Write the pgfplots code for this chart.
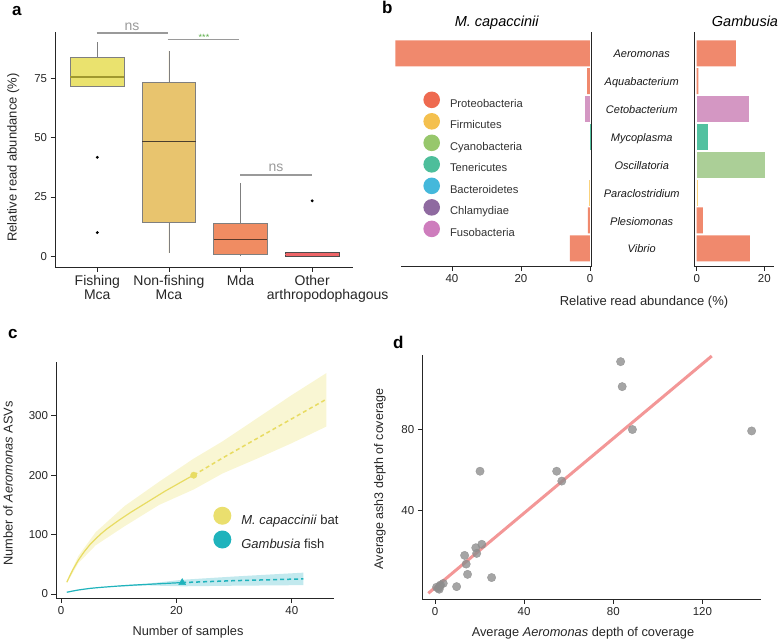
\documentclass[border=0pt]{standalone}
\usepackage{fontspec}
\setmainfont{Liberation Sans}
\usepackage{pgfplots}
\pgfplotsset{compat=1.18}
\usepgfplotslibrary{statistics}

\definecolor{boxY}{HTML}{EAE26E}
\definecolor{boxYmed}{HTML}{A0982E}
\definecolor{boxO}{HTML}{E8C46E}
\definecolor{boxOmed}{HTML}{4A3E2E}
\definecolor{boxS}{HTML}{F08C62}
\definecolor{boxSmed}{HTML}{5B3A2A}
\definecolor{boxR}{HTML}{EE6467}
\definecolor{edgeG}{HTML}{7F7F7F}
\definecolor{sigG}{HTML}{9A9A9A}
\definecolor{sigGreen}{HTML}{5DAE4B}
\definecolor{proteo}{HTML}{EE6A50}
\definecolor{firm}{HTML}{F4C04E}
\definecolor{cyano}{HTML}{97C76C}
\definecolor{teneri}{HTML}{4DBE9B}
\definecolor{bactero}{HTML}{44B8DB}
\definecolor{chlamy}{HTML}{8F6AA0}
\definecolor{fuso}{HTML}{CE7DBD}
\definecolor{proteoB}{HTML}{F0896D}
\definecolor{firmB}{HTML}{FAD27C}
\definecolor{cyanoB}{HTML}{ABCF97}
\definecolor{teneriB}{HTML}{52C1A0}
\definecolor{fusoB}{HTML}{D497C3}
\definecolor{batY}{HTML}{E8DC62}
\definecolor{batLeg}{HTML}{EADF6E}
\definecolor{batBand}{HTML}{F9F6D3}
\definecolor{fishT}{HTML}{1FB3BC}
\definecolor{fishBand}{HTML}{C2E9EE}
\definecolor{ptG}{HTML}{8E8E8E}
\definecolor{regR}{HTML}{F28C8C}

\newcommand{\fs}[1]{\fontsize{#1}{#1}\selectfont}

\pgfplotsset{
  panel/.style={scale only axis, anchor=south west, clip=false,
    axis x line=bottom, axis y line=left,
    axis line style={-, line width=0.9pt, black!85},
    every outer y axis line/.append style={-},
    every outer x axis line/.append style={-},
    tick align=outside, major tick length=4.5pt,
    tick style={line width=0.8pt, black!85},
    tick label style={font=\fs{11}, text=black!85},
    /pgf/number format/assume math mode=true},
}

\begin{document}
\begin{tikzpicture}
\path[use as bounding box] (0pt,0pt) rectangle (784pt,-641pt);

% ---------------- panel a ----------------
\begin{axis}[panel, at={(55pt,-267pt)}, width=298pt, height=235pt,
  xmin=0.41, xmax=4.57, ymin=-4.5, ymax=94.5,
  boxplot/draw direction=y,
  xtick={1,2,3,4},
  xticklabels={{Fishing\\Mca},{Non-fishing\\Mca},{Mda},{Other\\\hspace*{31pt}arthropodophagous}},
  xticklabel style={align=center, font=\fs{14}},
  ytick={0,25,50,75}, tick label style={font=\fs{11.4}}]
\addplot[draw=edgeG, fill=boxY, line width=0.7pt, mark=*, mark size=1.1pt, mark options={black, fill=black},
  boxplot prepared={draw position=1, box extend=0.75, whisker extend=0,
    lower whisker=71.6, lower quartile=71.6, median=75.5, upper quartile=83.9, upper whisker=90.2,
    every median/.style={draw=boxYmed, line width=1.6pt}}]
  coordinates {(0,41.7) (0,10.0)};
\addplot[draw=edgeG, fill=boxO, line width=0.7pt,
  boxplot prepared={draw position=2, box extend=0.75, whisker extend=0,
    lower whisker=1.3, lower quartile=14.5, median=48.5, upper quartile=73.2, upper whisker=86.7,
    every median/.style={draw=boxOmed, line width=1.1pt}}]
  coordinates {};
\addplot[draw=edgeG, fill=boxS, line width=0.7pt,
  boxplot prepared={draw position=3, box extend=0.75, whisker extend=0,
    lower whisker=0, lower quartile=0.7, median=7.2, upper quartile=14.0, upper whisker=30.9,
    every median/.style={draw=boxSmed, line width=1.1pt}}]
  coordinates {};
\addplot[draw=black!70, fill=boxR, line width=0.7pt, mark=*, mark size=1.1pt, mark options={black, fill=black},
  boxplot prepared={draw position=4, box extend=0.75, whisker extend=0,
    lower whisker=0, lower quartile=0, median=0.9, upper quartile=1.7, upper whisker=1.7,
    every median/.style={draw=boxR, line width=0.8pt}}]
  coordinates {(0,23.4)};
\end{axis}

% ---------------- panel b (left) ----------------
\begin{axis}[panel, at={(400.9pt,-266.7pt)}, width=190.8pt, height=235pt,
  x dir=reverse, xmin=-0.5, xmax=54.8, ymin=0.34, ymax=8.775,
  axis y line=right, y axis line style={-}, ytick=\empty, xtick={0,20,40},
  tick label style={font=\fs{11.5}},
  xbar, bar shift=0pt, bar width=26pt]
\addplot[fill=proteoB, draw=none] coordinates {(56.4,8) (0.8,7) (0.6,2) (5.8,1)};
\addplot[fill=fusoB, draw=none] coordinates {(1.4,6)};
\addplot[fill=teneriB, draw=none] coordinates {(0.1,5)};
\addplot[fill=firmB, draw=none] coordinates {(0.3,3)};
\end{axis}

% ---------------- panel b (right) ----------------
\begin{axis}[panel, at={(694.7pt,-266.7pt)}, width=79.7pt, height=235pt,
  xmin=-0.6, xmax=23, ymin=0.34, ymax=8.775,
  ytick=\empty, xtick={0,20},
  tick label style={font=\fs{11.5}},
  xbar, bar shift=0pt, bar width=26pt,
  legend style={at={(-3.404,0.7455)}, anchor=north west, draw=none, fill=none,
    inner sep=0pt, outer sep=0pt, font=\fs{11.2}, row sep=4.4pt, column sep=10pt,
    nodes={inner sep=0pt, text=black!80}},
  legend cell align=left,
  legend image code/.code={\fill[#1] (8.3pt,4pt) circle (8.3pt);}]
\addlegendimage{fill=proteo, draw=none}\addlegendentry{Proteobacteria}
\addlegendimage{fill=firm, draw=none}\addlegendentry{Firmicutes}
\addlegendimage{fill=cyano, draw=none}\addlegendentry{Cyanobacteria}
\addlegendimage{fill=teneri, draw=none}\addlegendentry{Tenericutes}
\addlegendimage{fill=bactero, draw=none}\addlegendentry{Bacteroidetes}
\addlegendimage{fill=chlamy, draw=none}\addlegendentry{Chlamydiae}
\addlegendimage{fill=fuso, draw=none}\addlegendentry{Fusobacteria}
\addplot[forget plot, fill=proteoB, draw=none] coordinates {(11.6,8) (0.5,7) (1.8,2) (15.7,1)};
\addplot[forget plot, fill=fusoB, draw=none] coordinates {(15.6,6)};
\addplot[forget plot, fill=teneriB, draw=none] coordinates {(3.3,5)};
\addplot[forget plot, fill=cyanoB, draw=none] coordinates {(20.2,4)};
\addplot[forget plot, fill=firmB, draw=none] coordinates {(0.5,3)};
\end{axis}

% ---------------- panel c ----------------
\begin{axis}[panel, at={(56pt,-598.3pt)}, width=278pt, height=236.6pt,
  xmin=-0.87, xmax=47.3, ymin=-7.2, ymax=391,
  xtick={0,20,40}, ytick={0,100,200,300},
  tick label style={font=\fs{11.5}},
  legend style={at={(0.566,0.387)}, anchor=north west, draw=none, fill=none,
    inner sep=0pt, outer sep=0pt, font=\fs{13}, row sep=4.6pt, column sep=10pt,
    nodes={inner sep=0pt, text=black!85}},
  legend cell align=left,
  legend image code/.code={\fill[#1] (9pt,4.7pt) circle (9pt);}]
\addlegendimage{fill=batLeg, draw=none}\addlegendentry{\textit{M. capaccinii} bat}
\addlegendimage{fill=fishT, draw=none}\addlegendentry{\textit{Gambusia} fish}
% bands
\addplot[forget plot, fill=batBand, draw=none] coordinates {
  (1,22) (3,64) (6,104) (11,148) (17,189) (23,228) (28,257) (34,296) (40,335) (46,372)
  (46,282) (40,254) (34,228) (28,203) (23,176) (17,150) (11,114) (6,82) (3,52) (1,18)};
\addplot[forget plot, fill=fishBand, draw=none] coordinates {
  (10,14.5) (15,17.5) (21,24) (30,29.5) (42,36)
  (42,15) (30,14) (21,13) (15,14.5) (10,12.5)};
% curves
\addplot[forget plot, batY, line width=1.2pt] coordinates {
  (1,20) (2,40) (3,57) (4,71) (5,83) (6,93) (7,102) (8,110) (10,124) (12,137)
  (14,149) (16,161) (18,173) (20,184) (22,195) (23,200)};
\addplot[forget plot, batY, line width=1.5pt, dash pattern=on 4pt off 3pt] coordinates {
  (23,200) (28,229) (34,262) (40,295) (46,328)};
\addplot[forget plot, batY, only marks, mark=*, mark size=3.2pt] coordinates {(23,200)};
\addplot[forget plot, fishT, line width=1.2pt] coordinates {
  (1,3) (2,5) (3,6.8) (5,9.5) (7,11.3) (10,13.5) (13,15.3) (16,16.8) (19,18.3) (21,19.3)};
\addplot[forget plot, fishT, line width=1.5pt, dash pattern=on 4pt off 3pt] coordinates {
  (21,19.3) (30,22.5) (42,25.5)};
\addplot[forget plot, fishT, only marks, mark=triangle*, mark size=4pt] coordinates {(21,19.3)};
\end{axis}

% ---------------- panel d ----------------
\begin{axis}[panel, at={(422.3pt,-599.3pt)}, width=338.7pt, height=244.3pt,
  xmin=-5.7, xmax=146.3, ymin=-4.3, ymax=117,
  xtick={0,40,80,120}, ytick={40,80},
  tick label style={font=\fs{11.5}}]
\addplot[ptG, only marks, mark=*, mark size=4.2pt, mark options={opacity=0.8}] coordinates {
  (83.3,113.7) (84.0,101.3) (88.6,80.0) (142.1,79.3) (20.2,59.3) (54.6,59.3) (56.9,54.4)
  (21.0,23.0) (18.3,21.3) (18.7,18.5) (13.3,17.5) (14.0,13.2) (14.6,8.1) (25.4,6.5)
  (9.7,2.0) (3.7,3.6) (2.2,2.3) (1.5,1.2) (0.7,1.7) (1.9,0.7) (2.5,2.8)};
\addplot[regR, line width=3pt, opacity=0.9] coordinates {(-3,-1.3) (124.2,116.5)};
\end{axis}

% ---------------- annotations ----------------
\begin{scope}[x=1pt,y=-1pt]
\node[anchor=base west, inner sep=0, font=\bfseries\fs{17}] at (12,15) {a};
\node[anchor=base west, inner sep=0, font=\bfseries\fs{17}] at (382,13) {b};
\node[anchor=base west, inner sep=0, font=\bfseries\fs{17}] at (8,338) {c};
\node[anchor=base west, inner sep=0, font=\bfseries\fs{17}] at (393,348) {d};
% panel a
\draw[sigG, line width=1.3pt] (96.7,33) -- (167.7,33);
\node[anchor=base, inner sep=0, text=sigG, font=\fs{14}] at (132,30) {ns};
\draw[sigG, line width=1.3pt] (167.7,39.3) -- (239,39.3);
\node[anchor=base, inner sep=0, text=sigGreen, font=\fs{9}] at (204,40) {***};
\draw[sigG, line width=1.3pt] (240,175) -- (311.7,175);
\node[anchor=base, inner sep=0, text=sigG, font=\fs{14}] at (276,171.7) {ns};
\node[rotate=90, font=\fs{13}, text=black!85] at (13.3,157.5) {Relative read abundance (\%)};
% panel b
\node[anchor=base, inner sep=0, font=\itshape\fs{14.5}] at (496.7,26) {M. capaccinii};
\node[anchor=base, inner sep=0, font=\itshape\fs{14.5}] at (745,26) {Gambusia};
\foreach \yy/\nm in {53.3/Aeromonas, 81.2/Aquabacterium, 109/Cetobacterium, 137/Mycoplasma,
  165/Oscillatoria, 193/Paraclostridium, 221/Plesiomonas, 248.5/Vibrio}
  \node[anchor=base, inner sep=0, font=\itshape\fs{11}, text=black!90] at (641.7,\yy+4) {\nm};
\node[font=\fs{13}, text=black!85] at (644,302) {Relative read abundance (\%)};
% panel c
\node[rotate=90, font=\fs{12.8}, text=black!85] at (8,483.5) {Number of \textit{Aeromonas} ASVs};
\node[font=\fs{12.8}, text=black!85] at (188,631.7) {Number of samples};
% panel d
\node[rotate=90, font=\fs{12.5}, text=black!85] at (380,479) {Average ash3 depth of coverage};
\node[font=\fs{12.8}, text=black!85] at (583,633.3) {Average \textit{Aeromonas} depth of coverage};
\end{scope}
\end{tikzpicture}
\end{document}
